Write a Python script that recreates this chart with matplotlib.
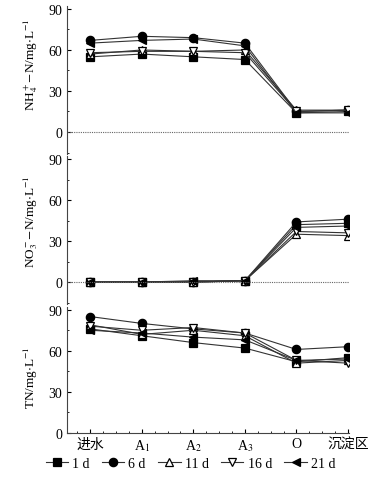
import matplotlib.pyplot as plt
from matplotlib.ticker import MultipleLocator
from matplotlib.lines import Line2D

plt.rcParams['font.family'] = ['Liberation Serif', 'Noto Sans CJK SC']
plt.rcParams['mathtext.fontset'] = 'stix'

stations = ["进水", "A$_1$", "A$_2$", "A$_3$", "O", "沉淀区"]
days = ["1 d", "6 d", "11 d", "16 d", "21 d"]

# NH4+-N, mg/L
nh4 = {
    "1 d": [55, 57, 55, 53, 14, 15],
    "6 d": [67, 70, 69, 65, 15, 16],
    "11 d": [57, 60, 59, 60, 16, 16],
    "16 d": [58, 59, 59, 58, 15, 16],
    "21 d": [65, 67, 68, 63, 14, 14],
}
# NO3--N, mg/L
no3 = {
    "1 d": [0, 0, 0, 1, 42, 43],
    "6 d": [0, 0, 0, 1, 44, 46],
    "11 d": [0, 0, 0, 1, 35, 34],
    "16 d": [0, 0, 0, 1, 37, 36],
    "21 d": [0, 0, 1, 1, 40, 41],
}
# TN, mg/L
tn = {
    "1 d": [76, 71, 66, 62, 52, 55],
    "6 d": [85, 80, 76, 73, 61, 63],
    "11 d": [79, 72, 75, 71, 51, 53],
    "16 d": [78, 75, 77, 73, 53, 51],
    "21 d": [75, 73, 70, 68, 53, 54],
}

styles = {
    "1 d": dict(marker="s", mfc="black"),
    "6 d": dict(marker="o", mfc="black"),
    "11 d": dict(marker="^", mfc="white"),
    "16 d": dict(marker="v", mfc="white"),
    "21 d": dict(marker="<", mfc="black"),
}

fig = plt.figure(figsize=(3.81, 4.81), dpi=100)
left, width = 0.176, 0.74
ax1 = fig.add_axes([left, 0.678, width, 0.307])
ax2 = fig.add_axes([left, 0.366, width, 0.307])
ax3 = fig.add_axes([left, 0.0977, width, 0.262])

xs = list(range(len(stations)))
panels = [(ax1, nh4, "NH$_4^+$$-$N/mg$\\cdot$L$^{-1}$", 0.61),
          (ax2, no3, "NO$_3^-$$-$N/mg$\\cdot$L$^{-1}$", 0.56),
          (ax3, tn, "TN/mg$\\cdot$L$^{-1}$", 0.45)]

for ax, data, ylab, ypos in panels:
    for d in days:
        ax.plot(xs, data[d], color="#333333", lw=0.8, ms=6, mec="black",
                mew=0.9, **styles[d])
    ax.set_xlim(-0.45, 5.02)
    ax.set_yticks([0, 30, 60, 90])
    ax.yaxis.set_minor_locator(MultipleLocator(15))
    ax.tick_params(axis="y", direction="in", labelsize=10, length=3)
    ax.tick_params(axis="y", which="minor", direction="in", length=1.5)
    ax.set_ylabel(ylab, fontsize=9.5)
    ax.yaxis.set_label_coords(-0.095, ypos)
    for s in ["top", "right"]:
        ax.spines[s].set_visible(False)
    ax.spines["left"].set_linewidth(0.8)
    ax.spines["left"].set_color("#444444")

for ax in (ax1, ax2):
    ax.set_ylim(-16, 92)
    ax.axhline(0, color="#666666", lw=0.8, ls=(0, (1, 1)))
    ax.spines["bottom"].set_visible(False)
    ax.set_xticks([])

ax3.set_ylim(0, 92)
ax3.set_xticks(xs)
ax3.set_xticklabels(stations, fontsize=10)
ax3.xaxis.set_minor_locator(MultipleLocator(0.25))
ax3.tick_params(axis="x", direction="in", length=3, pad=3)
ax3.tick_params(axis="x", which="minor", direction="in", length=1.5)
ax3.spines["bottom"].set_linewidth(0.8)
ax3.spines["bottom"].set_color("#444444")

handles = [Line2D([], [], color="#333333", lw=0.8, ms=6, mec="black", mew=0.9,
                  **styles[d]) for d in days]
fig.legend(handles, days, loc="lower center", bbox_to_anchor=(0.5, -0.005),
           ncol=5, frameon=False, fontsize=10, handlelength=1.6,
           handletextpad=0.3, columnspacing=0.9)

fig.savefig("out.png", dpi=100)
